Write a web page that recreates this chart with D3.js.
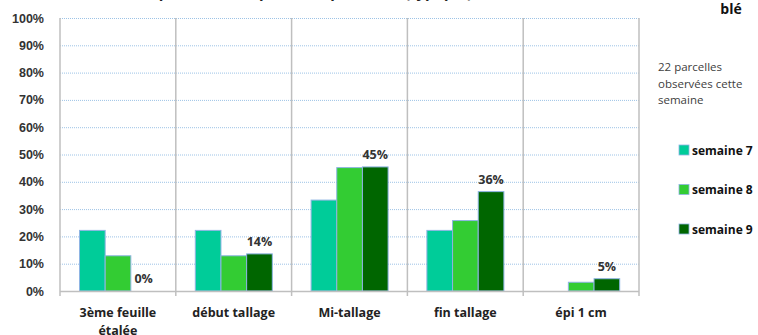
<!DOCTYPE html>
<html>
<head>
<meta charset="utf-8">
<script src="https://cdn.jsdelivr.net/npm/d3@7"></script>
<style>
  body { margin: 0; background: #fff; }
  svg { display: block; font-family: "Open Sans", "Liberation Sans", sans-serif; }
</style>
</head>
<body>
<div id="chart"></div>
<script>
// Stades du blé - parcelles observées par semaine
const categories = ['3ème feuille|étalée', 'début tallage', 'Mi-tallage', 'fin tallage', 'épi 1 cm'];
const series = ['semaine 7', 'semaine 8', 'semaine 9'];
const semaine7 = [0.222, 0.222, 0.333, 0.222, 0];
const semaine8 = [0.129, 0.129, 0.452, 0.258, 0.032];
const semaine9 = [0, 0.136, 0.4545, 0.364, 0.045];
const yTicks = [0, 0.1, 0.2, 0.3, 0.4, 0.5, 0.6, 0.7, 0.8, 0.9, 1];
const colors = ['#00cc99', '#33cc33', '#006600'];

const width = 758, height = 335;
const margin = { top: 18, left: 60, right: 119, bottom: 44 };
const plotBottom = height - margin.bottom;   // 0% line
const plotRight = width - margin.right;

const svg = d3.select('#chart').append('svg')
  .attr('width', width)
  .attr('height', height);

const x = d3.scaleBand().domain(categories).range([margin.left, plotRight]);
const xSub = d3.scaleBand().domain(series).range([19.5, 96.5]);
const y = d3.scaleLinear().domain([0, 1]).range([plotBottom, margin.top]);

const values = { 'semaine 7': semaine7, 'semaine 8': semaine8, 'semaine 9': semaine9 };

// title, cut off at top
svg.append('text')
  .attr('x', 140).attr('y', -2.5)
  .style('font-size', '15px').style('font-weight', 'bold').attr('fill', '#222')
  .text('Répartition des parcelles par stade (typique)');

svg.append('text')
  .attr('x', 731).attr('y', 14)
  .attr('text-anchor', 'middle')
  .style('font-size', '14px').style('font-weight', 'bold').attr('fill', '#111')
  .text('blé');

// horizontal grid
svg.append('g')
  .selectAll('line')
  .data(yTicks.filter(d => d > 0))
  .join('line')
  .attr('x1', margin.left).attr('x2', plotRight)
  .attr('y1', d => y(d) + 0.5).attr('y2', d => y(d) + 0.5)
  .attr('stroke', '#9dc3e6')
  .attr('stroke-width', 1)
  .attr('stroke-dasharray', '1,1');

// vertical category separators
const bounds = categories.map(c => x(c)).concat([plotRight]);
svg.append('g')
  .selectAll('line')
  .data(bounds)
  .join('line')
  .attr('x1', d => d).attr('x2', d => d)
  .attr('y1', margin.top).attr('y2', plotBottom + 5)
  .attr('stroke', '#bfbfbf')
  .attr('stroke-width', 1.5);

// y axis labels
const yAxis = d3.axisLeft(y)
  .tickValues(yTicks)
  .tickFormat(d3.format('.0%'))
  .tickSize(0)
  .tickPadding(16);

svg.append('g')
  .attr('transform', `translate(${margin.left},0)`)
  .call(yAxis)
  .call(g => g.select('.domain').remove())
  .call(g => g.selectAll('text')
    .style('font-size', '12.5px')
    .style('font-weight', 'bold')
    .attr('fill', '#333'));

// bars
const groups = svg.append('g')
  .selectAll('g')
  .data(categories)
  .join('g')
  .attr('transform', d => `translate(${x(d)},0)`);

groups.selectAll('rect')
  .data((c, i) => series.map((s, j) => ({ s, j, v: values[s][i] })))
  .join('rect')
  .filter(d => d.v > 0)
  .attr('x', d => xSub(d.s))
  .attr('width', xSub.bandwidth())
  .attr('y', d => y(d.v))
  .attr('height', d => plotBottom - y(d.v))
  .attr('fill', d => colors[d.j])
  .attr('stroke', '#8eb4e3')
  .attr('stroke-width', 1);

// bottom axis line
svg.append('line')
  .attr('x1', margin.left).attr('x2', plotRight)
  .attr('y1', plotBottom + 0.5).attr('y2', plotBottom + 0.5)
  .attr('stroke', '#bfbfbf').attr('stroke-width', 1.5);

// data labels, semaine 9 only
groups.append('text')
  .attr('x', xSub('semaine 9') + xSub.bandwidth() / 2)
  .attr('y', (c, i) => y(semaine9[i]) - 8)
  .attr('text-anchor', 'middle')
  .style('font-size', '12.5px').style('font-weight', 'bold').attr('fill', '#333')
  .text((c, i) => d3.format('.0%')(semaine9[i]));

// category labels
groups.append('text')
  .attr('x', x.bandwidth() / 2)
  .attr('y', plotBottom + 26)
  .attr('text-anchor', 'middle')
  .style('font-size', '12.5px').style('font-weight', 'bold').attr('fill', '#222')
  .selectAll('tspan')
  .data(c => c.split('|'))
  .join('tspan')
  .attr('x', x.bandwidth() / 2)
  .attr('dy', (d, i) => i === 0 ? 0 : 18)
  .text(d => d);

// note
const note = ['22 parcelles', 'observées cette', 'semaine'];
svg.append('text')
  .attr('x', 658).attr('y', 71)
  .style('font-size', '11.5px').attr('fill', '#404040')
  .selectAll('tspan')
  .data(note)
  .join('tspan')
  .attr('x', 658)
  .attr('dy', (d, i) => i === 0 ? 0 : 16.5)
  .text(d => d);

// legend
const legendY = d3.scalePoint().domain(series).range([150, 229]);
const legend = svg.append('g')
  .selectAll('g')
  .data(series)
  .join('g')
  .attr('transform', d => `translate(679,${legendY(d)})`);

legend.append('rect')
  .attr('x', 0).attr('y', -5)
  .attr('width', 10).attr('height', 10)
  .attr('fill', (d, i) => colors[i])
  .attr('stroke', '#8eb4e3').attr('stroke-width', 0.8);

legend.append('text')
  .attr('x', 13).attr('y', 4.5)
  .style('font-size', '12px').style('font-weight', 'bold').attr('fill', '#111')
  .text(d => d);
</script>
</body>
</html>
